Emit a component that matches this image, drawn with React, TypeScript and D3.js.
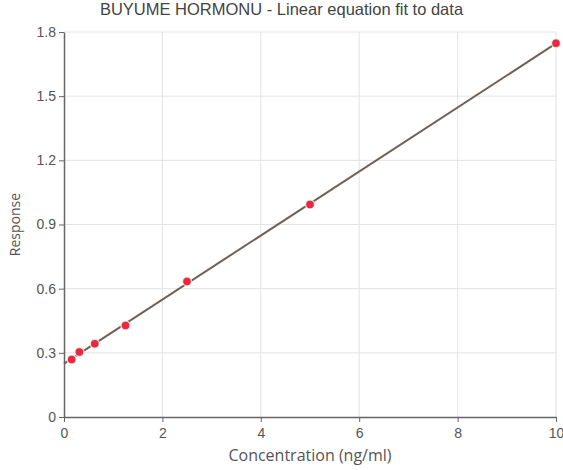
import { useEffect, useRef } from 'react';
import * as d3 from 'd3';

// standard concentrations (ng/ml) and measured response
const concentrations = [0.156, 0.3125, 0.625, 1.25, 2.5, 5, 10];
const responses = [0.269, 0.304, 0.343, 0.428, 0.634, 0.994, 1.747];

const xTicks = [0, 2, 4, 6, 8, 10];
const yTicks = [0, 0.3, 0.6, 0.9, 1.2, 1.5, 1.8];

const title = 'BUYUME HORMONU - Linear equation fit to data';
const xLabel = 'Concentration (ng/ml)';
const yLabel = 'Response';

const App = () => {
  const ref = useRef<SVGSVGElement>(null);
  const width = 563;
  const height = 470;
  const marginTop = 32;
  const marginRight = 7;
  const marginBottom = 53;
  const marginLeft = 64;

  useEffect(() => {
    const svg = d3.select(ref.current);
    svg.selectAll('*').remove();

    const x = d3.scaleLinear()
      .domain([0, 10])
      .range([marginLeft, width - marginRight]);

    const y = d3.scaleLinear()
      .domain([0, 1.8])
      .range([height - marginBottom, marginTop]);

    // least squares fit
    const mx = d3.mean(concentrations)!;
    const my = d3.mean(responses)!;
    const sxy = d3.sum(concentrations, (c, i) => (c - mx) * (responses[i] - my));
    const sxx = d3.sum(concentrations, c => (c - mx) ** 2);
    const slope = sxy / sxx;
    const intercept = my - slope * mx;

    // grid
    svg.append('g')
      .selectAll('line.v')
      .data(xTicks.slice(1))
      .join('line')
      .attr('x1', d => x(d)).attr('x2', d => x(d))
      .attr('y1', y(0)).attr('y2', y(1.8))
      .attr('stroke', '#e3e3e3');

    svg.append('g')
      .selectAll('line.h')
      .data(yTicks.slice(1))
      .join('line')
      .attr('x1', x(0)).attr('x2', x(10))
      .attr('y1', d => y(d)).attr('y2', d => y(d))
      .attr('stroke', '#e3e3e3');

    // axes
    const fmt = (d: d3.NumberValue) => String(+d);
    svg.append('g')
      .attr('transform', `translate(0,${y(0)})`)
      .call(d3.axisBottom(x).tickValues(xTicks).tickFormat(fmt).tickSize(5).tickSizeOuter(0))
      .call(g => g.select('.domain').attr('stroke', '#666').attr('stroke-width', 1.5))
      .call(g => g.selectAll('.tick line').attr('stroke', '#666'))
      .call(g => g.selectAll('.tick text')
        .attr('fill', '#555').attr('font-size', 14).attr('dy', '0.9em')
        .attr('font-family', 'Liberation Sans, Arial, sans-serif'));

    svg.append('g')
      .attr('transform', `translate(${x(0)},0)`)
      .call(d3.axisLeft(y).tickValues(yTicks).tickFormat(fmt).tickSize(5).tickSizeOuter(0))
      .call(g => g.select('.domain').attr('stroke', '#666').attr('stroke-width', 1.5))
      .call(g => g.selectAll('.tick line').attr('stroke', '#666'))
      .call(g => g.selectAll('.tick text')
        .attr('fill', '#555').attr('font-size', 14)
        .attr('font-family', 'Liberation Sans, Arial, sans-serif'));

    // fit line
    svg.append('line')
      .attr('x1', x(0)).attr('y1', y(intercept))
      .attr('x2', x(10)).attr('y2', y(intercept + slope * 10))
      .attr('stroke', '#6e6157')
      .attr('stroke-width', 2);

    // data points
    svg.append('g')
      .selectAll('circle')
      .data(concentrations)
      .join('circle')
      .attr('cx', d => x(d))
      .attr('cy', (d, i) => y(responses[i]))
      .attr('r', 4.5)
      .attr('fill', '#e8283f')
      .attr('stroke', '#fff')
      .attr('stroke-opacity', 0.7)
      .attr('stroke-width', 1.5);

    // title and labels
    svg.append('text')
      .attr('x', width / 2)
      .attr('y', 15)
      .attr('text-anchor', 'middle')
      .attr('font-family', 'Liberation Sans, Arial, sans-serif')
      .attr('font-size', 16.5)
      .attr('fill', '#444')
      .text(title);

    svg.append('text')
      .attr('x', (x(0) + x(10)) / 2)
      .attr('y', 461)
      .attr('text-anchor', 'middle')
      .attr('font-family', 'Open Sans, sans-serif')
      .attr('font-size', 16)
      .attr('fill', '#555')
      .text(xLabel);

    svg.append('text')
      .attr('transform', `translate(20,${(y(0) + y(1.8)) / 2}) rotate(-90)`)
      .attr('text-anchor', 'middle')
      .attr('font-family', 'Open Sans, sans-serif')
      .attr('font-size', 14)
      .attr('fill', '#555')
      .text(yLabel);
  }, []);

  return (
    <svg
      ref={ref}
      width={width}
      height={height}
      viewBox={`0 0 ${width} ${height}`}
      style={{ position: 'absolute', left: 0, top: 0 }}
    />
  );
};

export default App;
